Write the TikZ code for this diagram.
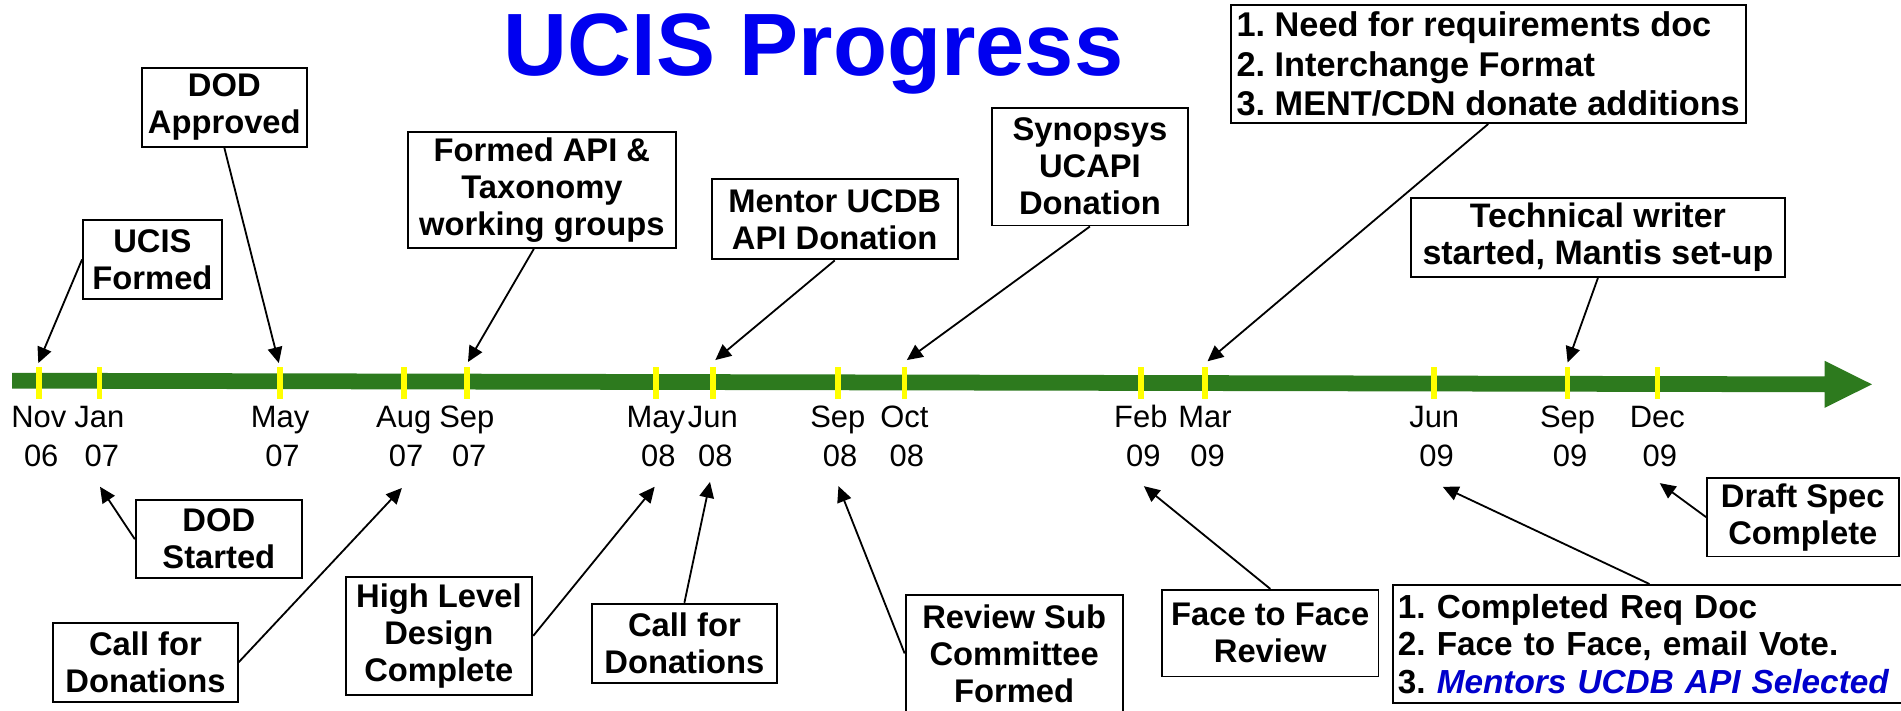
\documentclass[tikz,border=0pt]{standalone}
\usepackage{fontspec}
\setmainfont{Liberation Sans}
\usetikzlibrary{arrows.meta,calc}
\definecolor{bargreen}{RGB}{45,122,30}
\definecolor{tickyellow}{RGB}{255,255,0}
\definecolor{titleblue}{RGB}{0,0,240}
\definecolor{noteblue}{RGB}{0,0,204}
\begin{document}
\frenchspacing
\begin{tikzpicture}[x=1pt,y=-1pt,
  box/.style={draw=black,line width=1.6pt,inner sep=0pt,align=center,fill=white,
    font=\bfseries\fontsize{27}{30.5}\selectfont},
  listbox/.style={box,align=left},
  conn/.style={line width=1.5pt,-{Triangle[length=13pt,width=12pt]}},
  lab/.style={font=\fontsize{25.5}{30}\selectfont,anchor=base,inner sep=0pt}
]
\useasboundingbox (0,0) rectangle (1568,586);

% title
\node[font=\bfseries\fontsize{73}{80}\selectfont,text=titleblue,anchor=base,inner sep=0pt] (title) at (671,62) {UCIS Progress};

% timeline bar
\fill[bargreen] (10,307.5) -- (1505,310.5) -- (1505,297.6) -- (1544,317) -- (1505,336.4) -- (1505,323.5) -- (10,320.5) -- cycle;

% ticks and date labels
\foreach \x/\m/\yr/\n in {32/Nov/06/a, 82/Jan/07/b, 231/May/07/c, 333/Aug/07/d, 385/Sep/07/e,
  541/May/08/f, 588/Jun/08/g, 691/Sep/08/h, 746/Oct/08/i, 941/Feb/09/j, 994/Mar/09/k,
  1183/Jun/09/l, 1293/Sep/09/m, 1367/Dec/09/n} {
  \fill[tickyellow] (\x-2.3,302.5) rectangle (\x+2.3,329.5);
  \node[lab] (m\n) at (\x,353) {\m};
  \node[lab] (y\n) at (\x+2,385) {\yr};
}

% boxes above
\node[box,minimum width=114.5pt,minimum height=65pt] (ucis) at (125.75,214) {UCIS\\Formed};
\node[box,minimum width=136pt,minimum height=65pt] (dodapp) at (185,88.5) {DOD\\Approved};
\node[box,minimum width=221pt,minimum height=95.5pt] (formed) at (447,156.75) {Formed API \&\\Taxonomy\\working groups};
\node[box,minimum width=203pt,minimum height=66pt] (mentor) at (688.5,181) {Mentor UCDB\\API Donation};
\node[box,minimum width=162pt,minimum height=97pt] (synop) at (899,137.5) {Synopsys\\UCAPI\\Donation};
\node[listbox,minimum width=425pt,minimum height=97pt,
  font=\bfseries\fontsize{28.3}{32.5}\selectfont] (need) at (1227.5,53)
  {1. Need for requirements doc\\2. Interchange Format\\3. MENT/CDN donate additions};
\node[box,minimum width=308pt,minimum height=65.5pt,font=\bfseries\fontsize{28}{31}\selectfont] (tech) at (1318,195.75) {Technical writer\\started, Mantis set-up};

% boxes below
\node[box,minimum width=137pt,minimum height=64.5pt] (dodst) at (180.5,444.75) {DOD\\Started};
\node[box,minimum width=152pt,minimum height=65.4pt] (call1) at (120,546.3) {Call for\\Donations};
\node[box,minimum width=154pt,minimum height=97pt] (high) at (362,524.5) {High Level\\Design\\Complete};
\node[box,minimum width=153pt,minimum height=65pt] (call2) at (564.5,530.5) {Call for\\Donations};
\node[box,minimum width=179pt,minimum height=97pt] (review) at (836.5,539) {Review Sub\\Committee\\Formed};
\node[box,minimum width=178.5pt,minimum height=71.5pt] (face) at (1047.75,522.25) {Face to Face\\Review};
\node[box,minimum width=158pt,minimum height=65pt] (draft) at (1487,426.5) {Draft Spec\\Complete};
\node[listbox,minimum height=97.5pt,text width=415pt,inner xsep=4pt,
  font=\bfseries\fontsize{27.5}{31}\selectfont] (compl) at (1360.5,531.25)
  {1. Completed Req Doc\\2. Face to Face, email Vote.\\3. {\itshape\color{noteblue}Mentors UCDB API Selected}};

% arrow tips
\coordinate (t1) at (31.6,299.5);
\coordinate (t2) at (230,299.5);
\coordinate (t3) at (386,298.6);
\coordinate (t4) at (590,297);
\coordinate (t5) at (748,297);
\coordinate (t6) at (996,298);
\coordinate (t7) at (1293,299);
\coordinate (t8) at (82.5,401.5);
\coordinate (t9) at (331.5,402.5);
\coordinate (t10) at (540,401.5);
\coordinate (t11) at (585.6,397.5);
\coordinate (t12) at (691.6,401);
\coordinate (t13) at (943.5,401);
\coordinate (t14) at (1369,398.5);
\coordinate (t15) at (1190,401.5);

% connectors
\draw[conn] (ucis.west) -- (t1);
\draw[conn] (dodapp.south) -- (t2);
\draw[conn] ($(formed.south west)!0.47!(formed.south east)$) -- (t3);
\draw[conn] (mentor.south) -- (t4);
\draw[conn] (synop.south) -- (t5);
\draw[conn] (need.south) -- (t6);
\draw[conn] (tech.south) -- (t7);
\draw[conn] (dodst.west) -- (t8);
\draw[conn] (call1.east) -- (t9);
\draw[conn] (high.east) -- (t10);
\draw[conn] (call2.north) -- (t11);
\draw[conn] (review.west) -- (t12);
\draw[conn] (face.north) -- (t13);
\draw[conn] (draft.west) -- (t14);
\draw[conn] (compl.north) -- (t15);
\end{tikzpicture}
\end{document}
